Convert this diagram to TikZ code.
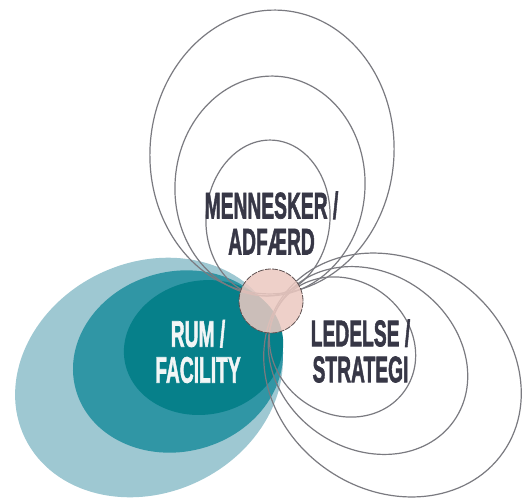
\documentclass[tikz,border=0pt]{standalone}
\usepackage{fontspec}
\setmainfont{Liberation Sans}
\newfontfamily\lblfont[FakeBold=2]{Liberation Sans Bold}
\definecolor{tealL}{RGB}{158,200,210}
\definecolor{tealM}{RGB}{48,150,165}
\definecolor{tealD}{RGB}{6,128,138}
\definecolor{ringgray}{RGB}{122,122,128}
\definecolor{pinkfill}{RGB}{236,201,193}
\definecolor{pinkedge}{RGB}{95,82,82}
\definecolor{labeldark}{RGB}{55,55,70}
\definecolor{labellight}{RGB}{242,246,246}
\tikzset{
  ring/.style={draw=ringgray, line width=1.2pt},
  lbl/.style={font=\lblfont\fontsize{37}{36}\selectfont, align=center, xscale=0.52, inner sep=0pt},
}
\begin{document}
\begin{tikzpicture}[x=1pt, y=-1pt]
\useasboundingbox[fill=white] (0,0) rectangle (522,499);
% teal group
\coordinate (tl) at (149,377.5);
\coordinate (tm) at (178,361.5);
\coordinate (td) at (203.5,347.5);
\fill[tealL, rotate around={26:(tl)}] (tl) ellipse [x radius=138pt, y radius=115pt];
\fill[tealM, rotate around={15:(tm)}] (tm) ellipse [x radius=106pt, y radius=90pt];
\fill[tealD, rotate around={10:(td)}] (td) ellipse [x radius=80pt, y radius=67pt];
% top group
\coordinate (uo) at (272,152);
\coordinate (um) at (270,186);
\coordinate (ui) at (268,218);
\draw[ring, rotate around={-4:(uo)}] (uo) ellipse [x radius=122pt, y radius=142pt];
\draw[ring, rotate around={-4:(um)}] (um) ellipse [x radius=95pt, y radius=110pt];
\draw[ring, rotate around={-4:(ui)}] (ui) ellipse [x radius=62pt, y radius=78pt];
% right group
\coordinate (ro) at (392.5,375);
\coordinate (rm) at (368,360.5);
\coordinate (ri) at (342.5,347);
\draw[ring, rotate around={-35:(ro)}] (ro) ellipse [x radius=135pt, y radius=115pt];
\draw[ring, rotate around={-35:(rm)}] (rm) ellipse [x radius=105pt, y radius=88pt];
\draw[ring, rotate around={-35:(ri)}] (ri) ellipse [x radius=76pt, y radius=67pt];
% centre circle
\node[circle, minimum size=64pt, inner sep=0pt, fill=pinkfill, fill opacity=0.86,
      draw=pinkedge, draw opacity=1, line width=0.8pt, dash pattern=on 6pt off 1.2pt] (hub) at (271,301) {};
% labels
\node[lbl, text=labeldark] (menn) at (271.5,223) {MENNESKER /\\ADFÆRD};
\node[lbl, text=labellight] (rum) at (198,351.5) {RUM /\\FACILITY};
\node[lbl, text=labeldark] (led) at (360.5,351) {LEDELSE /\\STRATEGI};
\end{tikzpicture}
\end{document}
